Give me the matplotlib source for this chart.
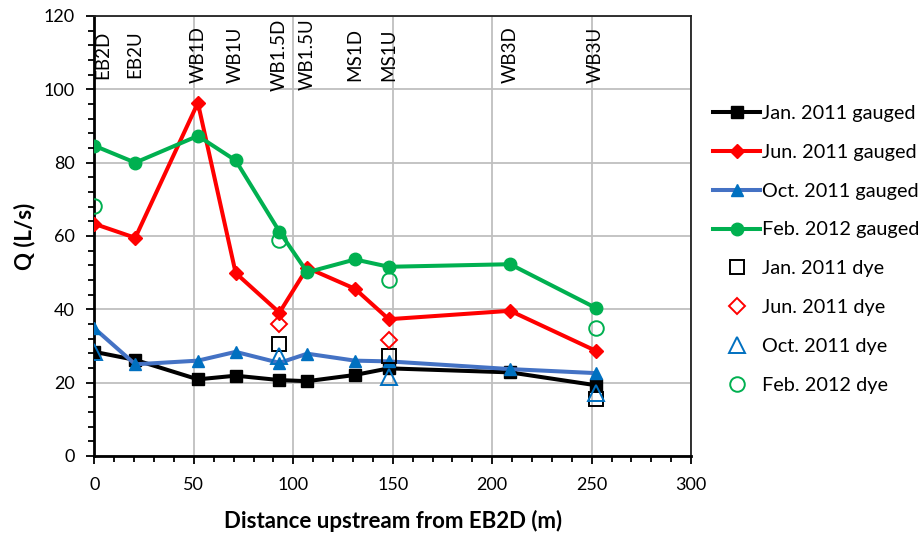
import numpy as np
import matplotlib
matplotlib.use('Agg')
import matplotlib.pyplot as plt
from matplotlib.ticker import MultipleLocator

plt.rcParams['font.family'] = ['Lato', 'DejaVu Sans']

# site names and distances upstream from EB2D (m)
sites = ['EB2D', 'EB2U', 'WB1D', 'WB1U', 'WB1.5D', 'WB1.5U', 'MS1D', 'MS1U', 'WB3D', 'WB3U']
dist = [0, 20.5, 52, 71, 93, 107, 131, 148, 209, 252]

# gauged discharge (L/s)
jan11_g = [28.4, 26.2, 20.9, 21.9, 20.7, 20.4, 22.1, 23.9, 22.8, 19.3]
jun11_g = [63.3, 59.5, 96.3, 49.9, 39.1, 51.3, 45.6, 37.3, 39.6, 28.7]
oct11_g = [34.8, 25.0, 26.0, 28.4, 25.4, 27.9, 26.0, 25.8, 23.7, 22.6]
feb12_g = [84.6, 80.0, 87.3, 80.6, 61.2, 50.1, 53.6, 51.6, 52.3, 40.4]

# dye dilution discharge (L/s)
jan11_dye_x = [93, 148, 252]
jan11_dye = [30.5, 27.3, 15.5]
jun11_dye_x = [93, 148]
jun11_dye = [35.9, 31.6]
oct11_dye_x = [0, 93, 148, 252]
oct11_dye = [28.4, 27.3, 21.6, 17.3]
feb12_dye_x = [0, 93, 148, 252]
feb12_dye = [68.2, 58.9, 48.0, 35.0]

fig = plt.figure(figsize=(9.19, 5.33), dpi=100)
ax = fig.add_axes([0.1028, 0.1445, 0.6492, 0.8255])

lw = 2.9
ax.plot(dist, jan11_g, color='black', lw=lw, marker='s', ms=8, label='Jan. 2011 gauged', zorder=5)
ax.plot(dist, jun11_g, color='#FF0000', lw=lw, marker='D', ms=7.5, label='Jun. 2011 gauged', zorder=5)
ax.plot(dist, oct11_g, color='#4472C4', lw=lw, marker='^', ms=9, mfc='#0070C0', mec='#0070C0',
        label='Oct. 2011 gauged', zorder=5)
ax.plot(dist, feb12_g, color='#00B050', lw=lw, marker='o', ms=9, label='Feb. 2012 gauged', zorder=5)

ax.plot(jan11_dye_x, jan11_dye, ls='none', marker='s', ms=10, mfc='none', mec='black', mew=1.4,
        label='Jan. 2011 dye', zorder=6)
ax.plot(jun11_dye_x, jun11_dye, ls='none', marker='D', ms=8.5, mfc='none', mec='#FF0000', mew=1.4,
        label='Jun. 2011 dye', zorder=6)
ax.plot(oct11_dye_x, oct11_dye, ls='none', marker='^', ms=11, mfc='none', mec='#0070C0', mew=1.4,
        label='Oct. 2011 dye', zorder=6)
ax.plot(feb12_dye_x, feb12_dye, ls='none', marker='o', ms=10.5, mfc='none', mec='#00B050', mew=1.4,
        label='Feb. 2012 dye', zorder=6)

# site labels along the top
for i, s in enumerate(sites):
    x = dist[i]
    if i == 0:
        x = 4
    ax.text(x, 109.5, s, rotation=90, ha='center', va='center', fontsize=13.5, zorder=7)

ax.set_xlim(0, 300)
ax.set_ylim(0, 120)
ax.xaxis.set_major_locator(MultipleLocator(50))
ax.xaxis.set_minor_locator(MultipleLocator(10))
ax.yaxis.set_major_locator(MultipleLocator(20))
ax.yaxis.set_minor_locator(MultipleLocator(4))
ax.grid(True, which='major', color='#BFBFBF', lw=1.3, zorder=0)
ax.set_axisbelow(True)
ax.tick_params(which='major', direction='out', length=6, width=1.3, labelsize=13)
ax.tick_params(axis='x', which='major', pad=9)
ax.tick_params(axis='y', which='major', pad=8)
ax.tick_params(which='minor', direction='out', length=4, width=1.3)
for sp in ['left', 'bottom']:
    ax.spines[sp].set_linewidth(2)
    ax.spines[sp].set_color('black')
for sp in ['top', 'right']:
    ax.spines[sp].set_linewidth(1.3)
    ax.spines[sp].set_color('#222222')

ax.set_xlabel('Distance upstream from EB2D (m)', fontsize=16, fontweight='bold', labelpad=12)
ax.set_ylabel('Q (L/s)', fontsize=16, fontweight='bold', labelpad=6)

fig.legend(loc='upper left', bbox_to_anchor=(0.767, 0.818), frameon=False, fontsize=14.3,
           numpoints=1, handlelength=2.4, handletextpad=0.1, labelspacing=1.1, borderaxespad=0)

fig.savefig('out.png', dpi=100)
